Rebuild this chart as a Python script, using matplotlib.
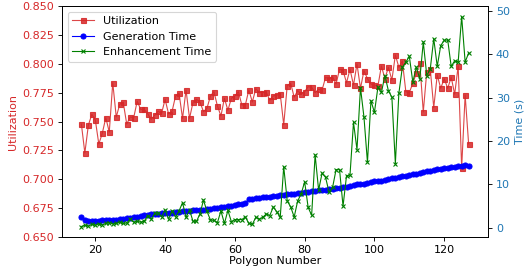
import numpy as np
import matplotlib
matplotlib.use("Agg")
import matplotlib.pyplot as plt

polygon_number = list(range(16, 128))

utilization = [
    0.7478, 0.7227, 0.7467, 0.7562, 0.7513, 0.7305, 0.7398, 0.7533, 0.7409, 0.7836,
    0.7539, 0.7649, 0.7666, 0.7478, 0.7539, 0.7533, 0.7675, 0.7605, 0.7605, 0.7568,
    0.7519, 0.7553, 0.7588, 0.7571, 0.7692, 0.7565, 0.7588, 0.7721, 0.7744, 0.7527,
    0.7773, 0.7527, 0.7666, 0.7692, 0.7669, 0.7585, 0.7614, 0.7721, 0.7758, 0.7634,
    0.7548, 0.7701, 0.7597, 0.7701, 0.7721, 0.7758, 0.7643, 0.7643, 0.7773, 0.7669,
    0.7784, 0.7750, 0.7750, 0.7753, 0.7684, 0.7721, 0.7727, 0.7738, 0.7472, 0.7810,
    0.7831, 0.7710, 0.7767, 0.7738, 0.7758, 0.7801, 0.7796, 0.7750, 0.7779, 0.7773,
    0.7883, 0.7865, 0.7888, 0.7825, 0.7952, 0.7940, 0.7836, 0.7952, 0.7816, 0.7998,
    0.7787, 0.7940, 0.7871, 0.7825, 0.7813, 0.7807, 0.7981, 0.7871, 0.7969, 0.7859,
    0.8076, 0.7969, 0.8024, 0.7758, 0.7750, 0.7831, 0.7917, 0.8009, 0.7582, 0.7931,
    0.7955, 0.7620, 0.7903, 0.7787, 0.7871, 0.7787, 0.7883, 0.7736, 0.7981, 0.7100,
    0.7729, 0.7305,
]

generation_time = [
    2.4, 1.9, 1.6, 1.5, 1.6, 1.6, 1.7, 1.8, 1.8, 1.9,
    1.9, 2.0, 2.1, 2.2, 2.3, 2.5, 2.6, 2.8, 2.9, 3.0,
    3.1, 3.2, 3.2, 3.3, 3.4, 3.5, 3.5, 3.6, 3.7, 3.8,
    3.9, 3.9, 4.0, 4.1, 4.2, 4.2, 4.3, 4.4, 4.5, 4.6,
    4.8, 4.9, 5.0, 5.1, 5.3, 5.4, 5.6, 5.7, 6.6, 6.7,
    6.8, 6.9, 7.0, 7.1, 7.2, 7.3, 7.4, 7.5, 7.6, 7.7,
    7.8, 7.9, 8.0, 8.1, 8.2, 8.3, 8.4, 8.5, 8.6, 8.7,
    8.8, 8.9, 9.0, 9.1, 9.2, 9.3, 9.5, 9.6, 9.8, 10.0,
    10.1, 10.2, 10.4, 10.5, 10.7, 10.8, 10.9, 11.1, 11.2, 11.4,
    11.5, 11.7, 11.9, 12.0, 12.2, 12.4, 12.5, 12.7, 12.9, 13.0,
    13.2, 13.3, 13.5, 13.6, 13.7, 13.8, 13.9, 14.0, 14.2, 14.3,
    14.4, 14.2,
]

enhancement_time = [
    0.3, 0.6, 0.4, 0.8, 0.6, 0.9, 0.7, 1.0, 1.2, 0.9,
    1.0, 1.3, 1.0, 1.1, 2.0, 1.3, 1.5, 1.3, 1.5, 2.8,
    2.0, 3.3, 3.5, 2.5, 4.1, 2.0, 3.9, 2.5, 3.9, 5.8,
    2.4, 4.1, 1.5, 1.5, 3.2, 6.4, 3.8, 1.8, 1.7, 1.2,
    3.9, 1.0, 4.0, 1.4, 1.9, 1.9, 1.9, 2.5, 1.0, 0.8,
    2.4, 2.0, 2.4, 3.2, 2.8, 4.8, 3.7, 2.4, 14.1, 6.2,
    4.8, 2.5, 6.2, 7.8, 10.6, 4.7, 2.9, 16.8, 8.7, 12.6,
    11.6, 8.2, 9.3, 13.4, 13.4, 5.0, 12.0, 12.2, 24.3, 18.0,
    32.3, 25.5, 15.1, 29.3, 26.6, 32.4, 31.2, 35.1, 31.6, 30.1,
    14.8, 31.0, 37.0, 38.2, 39.5, 33.6, 37.0, 34.3, 42.8, 35.1,
    36.6, 43.6, 37.2, 42.0, 43.2, 43.3, 37.2, 38.5, 38.2, 48.7,
    38.2, 40.3,
]

DPI = 80
fig = plt.figure(figsize=(527 / DPI, 268 / DPI), dpi=DPI)
ax1 = fig.add_axes([62 / 527, 1 - 237 / 268, 426 / 527, 231 / 268])
ax2 = ax1.twinx()

l1, = ax1.plot(polygon_number, utilization, color="tab:red", marker="s",
               markersize=4.5, linewidth=1, alpha=0.85, label="Utilization")
l2, = ax2.plot(polygon_number, generation_time, color="blue", marker="o",
               markersize=4.5, linewidth=1, label="Generation Time")
l3, = ax2.plot(polygon_number, enhancement_time, color="green", marker="x",
               markersize=3.5, linewidth=1, label="Enhancement Time")

ax1.set_ylim(0.65, 0.85)
ax1.set_xlabel("Polygon Number", labelpad=1)
ax1.set_ylabel("Utilization", color="tab:red")
ax1.tick_params(axis="y", labelcolor="tab:red")
ax2.set_ylabel("Time (s)", color="tab:blue")
ax2.tick_params(axis="y", labelcolor="tab:blue")

ax1.legend(handles=[l1, l2, l3], loc="upper left")

fig.savefig("out.png", dpi=DPI)
